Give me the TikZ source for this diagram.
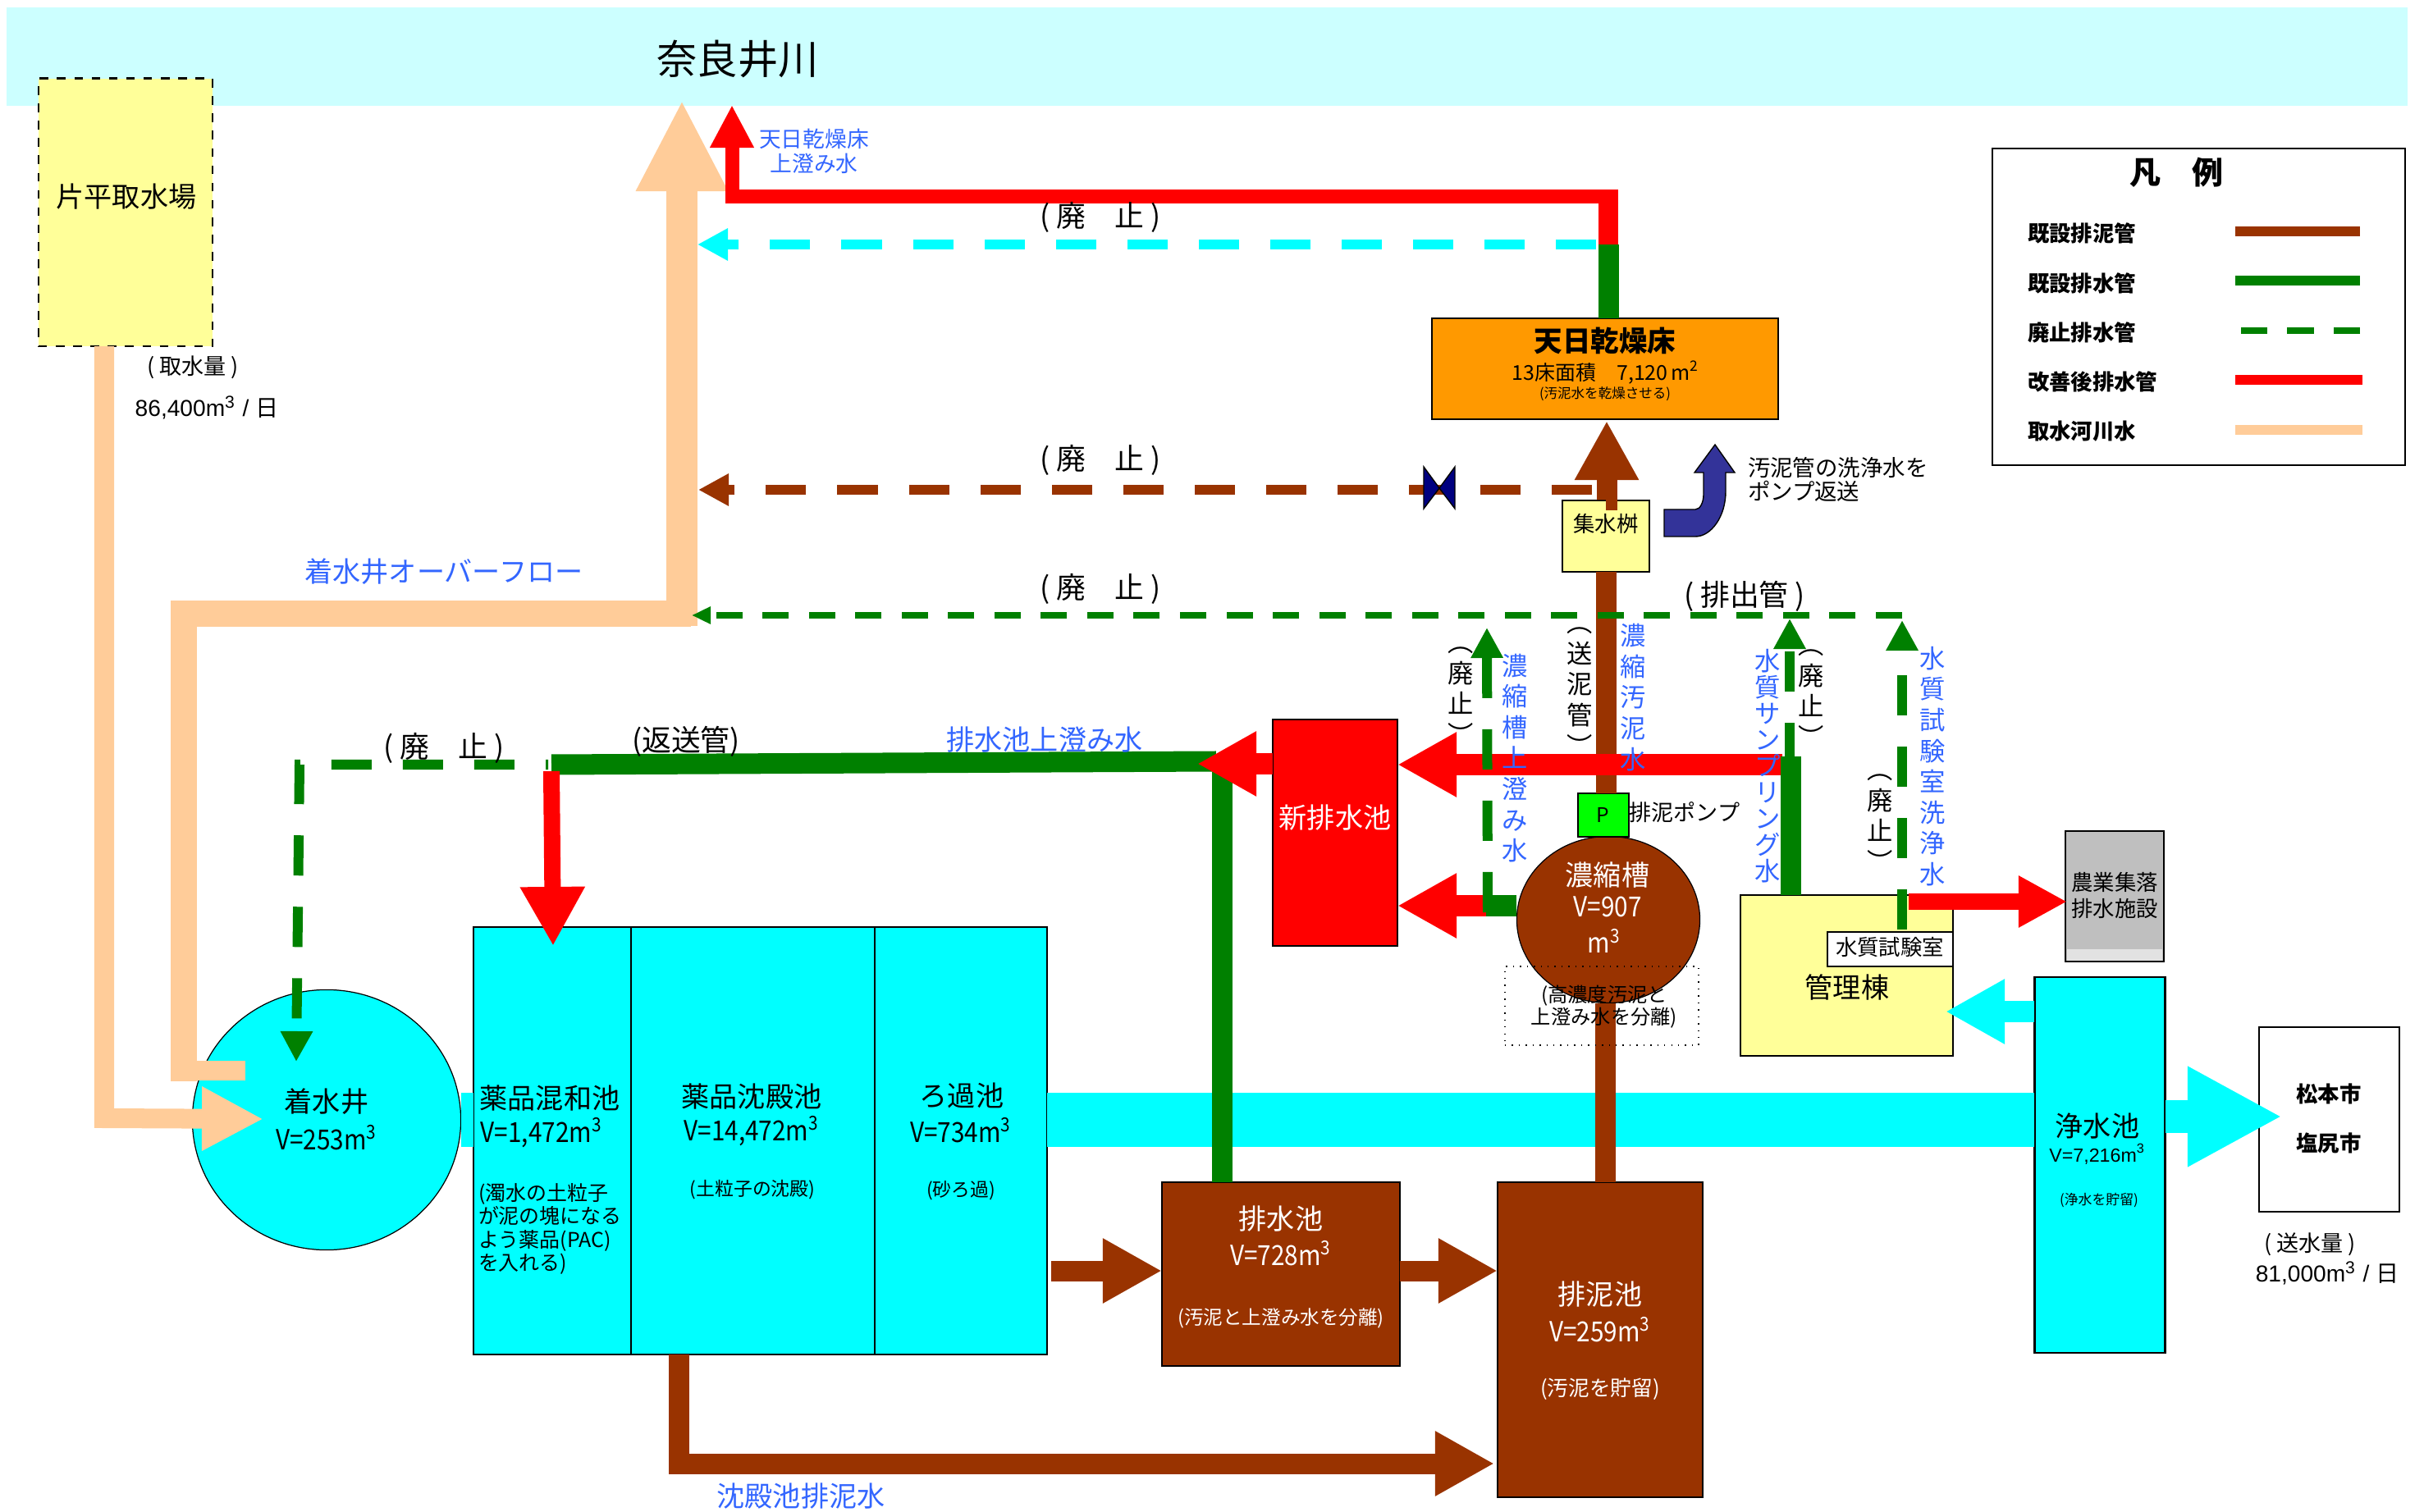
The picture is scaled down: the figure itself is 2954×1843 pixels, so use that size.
\documentclass[tikz,border=0pt]{standalone}
\usepackage{fontspec}
\setmainfont{Noto Sans CJK JP}
\newfontfamily\narrowfont[FakeStretch=0.88]{Noto Sans CJK JP}
\newfontfamily\latinfont{Liberation Sans}
\usepackage{tikz}
\usetikzlibrary{positioning,arrows.meta,shapes.geometric}
\definecolor{riverblue}{HTML}{CCFFFF}
\definecolor{pondcyan}{HTML}{00FFFF}
\definecolor{boxyellow}{HTML}{FFFF99}
\definecolor{bedorange}{HTML}{FF9900}
\definecolor{pipebrown}{HTML}{993300}
\definecolor{pipegreen}{HTML}{008000}
\definecolor{pipepeach}{HTML}{FFCC99}
\definecolor{notesblue}{HTML}{3366FF}
\definecolor{bentblue}{HTML}{333399}
\definecolor{farmgray}{HTML}{BFBFBF}
\definecolor{farmlight}{HTML}{E2E2E2}
\newcommand{\cubic}{m\textsuperscript{3}}

\begin{document}
\begin{tikzpicture}[
  x=0.01cm,y=-0.01cm,
  every node/.style={inner sep=0pt,outer sep=0pt,align=center},
  tank/.style={draw=black,line width=0.7pt},
  round tank/.style={draw=black,line width=0.35pt,ellipse},
  namefont/.style={font=\fontsize{9.7}{11}\selectfont},
  volfont/.style={font=\narrowfont\fontsize{9.6}{11}\selectfont},
  memofont/.style={font=\fontsize{6.5}{8}\selectfont},
  smallfont/.style={font=\fontsize{7.5}{8.4}\selectfont},
  notefont/.style={font=\fontsize{9.7}{11}\selectfont,text=notesblue},
  abolished/.style={font=\fontsize{10.2}{12}\selectfont},
  tate/.style={font=\fontsize{8.9}{10.7}\selectfont},
  bluetate/.style={tate,text=notesblue},
  legendlabel/.style={anchor=west,font=\bfseries\fontsize{7.5}{9}\selectfont},
  brownpipe/.style={draw=pipebrown,line width=2.5mm},
  greenpipe/.style={draw=pipegreen,line width=2.5mm},
  redpipe/.style={draw=red,line width=2.5mm},
  cyanpipe/.style={draw=pondcyan,line width=2.5mm},
  peachpipe/.style={draw=pipepeach,line width=2.4mm},
  olddash/.style={line width=1.2mm,dash pattern=on 4.9mm off 3.8mm},
  finedash/.style={draw=pipegreen,line width=0.8mm,dash pattern=on 3.2mm off 2.45mm},
  bighead/.style={-{Triangle[length=7.2mm,width=7.4mm]}},
  dashhead/.style={-{Triangle[length=3.7mm,width=3.7mm]}}
]
\useasboundingbox (0,0) rectangle (2954,1843);

% 川と取水場
\node[fill=riverblue,minimum width=29.25cm,minimum height=1.2cm] (river) at (1471,69) {};
\node[font=\fontsize{14}{16}\selectfont] (rivername) at (899,72) {奈良井川};
\node[fill=boxyellow,draw=black,line width=0.8pt,dashed,minimum width=2.12cm,minimum height=3.26cm] (intake) at (153,259) {};
\node[namefont] (intakename) at (154,240) {片平取水場};
\node[font=\fontsize{7.7}{9}\selectfont] (intakehead) at (235,448) {( 取水量 )};
\node[font=\fontsize{8}{9}\selectfont] (intakeflow) at (252,497) {{\latinfont 86,400m\textsuperscript{3} / }日};

% 池
\node[round tank,fill=pondcyan,minimum width=3.27cm,minimum height=3.17cm] (well) at (398,1365) {};
\node[tank,fill=pondcyan,minimum width=1.92cm,minimum height=5.21cm] (mix) at (673,1390.5) {};
\node[tank,fill=pondcyan,minimum width=2.97cm,minimum height=5.21cm] (settle) at (917.5,1390.5) {};
\node[tank,fill=pondcyan,minimum width=2.10cm,minimum height=5.21cm] (sandfilter) at (1171,1390.5) {};
\node[tank,fill=pipebrown,minimum width=2.90cm,minimum height=2.24cm] (drainpond) at (1561,1553) {};
\node[tank,fill=pipebrown,minimum width=2.50cm,minimum height=3.84cm] (sludge) at (1950,1633) {};
\node[tank,fill=red,minimum width=1.52cm,minimum height=2.76cm] (newpond) at (1627,1015) {};
\node[round tank,fill=pipebrown,minimum width=2.23cm,minimum height=2.03cm] (thickener) at (1960,1121) {};
\node[tank,fill=green,minimum width=0.62cm,minimum height=0.53cm] (pump) at (1954,993.5) {};
\node[tank,fill=boxyellow,minimum width=1.06cm,minimum height=0.87cm] (catch) at (1957,653.5) {};
\node[tank,fill=bedorange,minimum width=4.22cm,minimum height=1.23cm] (bed) at (1956,449.5) {};
\node[tank,fill=boxyellow,minimum width=2.59cm,minimum height=1.96cm] (office) at (2250.5,1189) {};
\node[tank,fill=farmgray,minimum width=1.20cm,minimum height=1.59cm] (farm) at (2577,1092.5) {};
\node[fill=farmlight,minimum width=1.16cm,minimum height=0.13cm] (farmstrip) at (2577,1164) {};
\node[tank,fill=pondcyan,minimum width=1.59cm,minimum height=4.58cm] (clear) at (2559,1420) {};
\node[tank,fill=white,minimum width=1.71cm,minimum height=2.25cm] (city) at (2838.5,1364.5) {};

% 曲がり角
\coordinate (intakebend) at (127,1363);
\coordinate (welltip) at (321,1364);
\coordinate (overwell) at (299,1305);
\coordinate (overbend) at (224,1305);
\coordinate (overturn) at (224,748);
\coordinate (overjoin) at (842,748);
\coordinate (overup) at (831,763);
\coordinate (rivertip) at (831,122);
\coordinate (bedjoin) at (1960,298);
\coordinate (bedtop) at (1960,231);
\coordinate (bedleft) at (1972,240);
\coordinate (redbend) at (892,240);
\coordinate (redtip) at (892,128);
\coordinate (cyanstart) at (1945,298);
\coordinate (cyantip) at (850,298);
\coordinate (brownstart) at (1940,597);
\coordinate (browntip) at (851,597);
\coordinate (sludgeup) at (1956,1441);
\coordinate (catchup) at (1958,586);
\coordinate (bedtip) at (1958,513);
\coordinate (returnright) at (1482,928);
\coordinate (returnleft) at (672,932);
\coordinate (returnstem) at (1489,941);
\coordinate (dropstart) at (672,940);
\coordinate (droptip) at (674,1153);
\coordinate (oldreturn) at (668,932);
\coordinate (oldcorner) at (365,932);
\coordinate (oldtip) at (361,1294);
\coordinate (newtip) at (1459,931);
\coordinate (redright) at (2172,932);
\coordinate (thickenerred) at (1811,1104);
\coordinate (overflowtip) at (1812,765);
\coordinate (overflowlow) at (1813,1112);
\coordinate (sampletop) at (2182,922);
\coordinate (samplelow) at (2181,930);
\coordinate (sampletip) at (2181,754);
\coordinate (labtop) at (2318,1133);
\coordinate (labcorner) at (2318,750);
\coordinate (labtip) at (2318,756);
\coordinate (linetip) at (843,750);
\coordinate (farmred) at (2326,1099);
\coordinate (farmtip) at (2519,1099);
\coordinate (officetip) at (2371,1233);
\coordinate (citytip) at (2781,1361);
\coordinate (mixlow) at (827,1651);
\coordinate (mixbend) at (827,1784);
\coordinate (sludgetip) at (1821,1784);
\coordinate (filterout) at (1281,1549);

% 取水河川水
\draw[peachpipe,-{Triangle[length=7.5mm,width=7.3mm]}] (intake.south -| intakebend) -- (intakebend) -- (welltip);
\draw[peachpipe] (overwell) -- (overbend);
\draw[peachpipe,line width=3.2mm] (224,1318) -- (overturn) -- (overjoin);
\draw[peachpipe,line width=3.8mm,-{Triangle[length=11.1mm,width=10.4mm]}] (overup) -- (rivertip);

% 浄水の流れ
\draw[draw=pondcyan,line width=6.5mm] (well.east) -- (well.east -| mix.west);
\draw[draw=pondcyan,line width=6.5mm] (sandfilter.east |- well.east) -- (clear.west |- well.east);
\draw[cyanpipe,bighead] (clear.west |- officetip) -- (officetip);
\draw[draw=pondcyan,line width=3.9mm,-{Triangle[length=11.5mm,width=11.4mm]}] (clear.east |- citytip) -- (citytip);

% 既設排泥管
\draw[brownpipe] (sludgeup) -- (thickener.south -| sludgeup);
\draw[brownpipe] (pump.north -| catch.south) -- (catch.south);
\draw[brownpipe,-{Triangle[length=7.2mm,width=7.3mm]}] (catch.north) -- (catch.north -| bedtip) -- (bedtip);
\draw[brownpipe,bighead] (filterout) -- (drainpond.west |- filterout);
\draw[brownpipe,bighead] (drainpond.east |- filterout) -- (sludge.west |- filterout);
\draw[brownpipe,bighead] (mixlow) -- (mixbend) -- (sludgetip);
\draw[draw=pipebrown,olddash,dashhead] (brownstart) -- (browntip);
\draw[draw=black,line width=0.4pt,fill=blue!50!black] (1735,569) -- (1754,595) -- (1773,569) -- (1773,620) -- (1754,595) -- (1735,620) -- cycle;

% 上澄み水の返送
\draw[greenpipe] (drainpond.north -| returnstem) -- (returnstem);
\draw[greenpipe] (returnright) -- (returnleft);
\draw[draw=pipegreen,olddash,dash phase=4.6mm,dashhead] (oldreturn) -- (oldcorner) -- (oldtip);
\draw[redpipe,line width=2mm,bighead] (dropstart) -- (droptip);
\draw[redpipe,bighead] (newpond.west |- newtip) -- (newtip);

% 天日乾燥床から川へ
\draw[greenpipe] (bed.north -| bedjoin) -- (bedjoin);
\draw[redpipe,line width=2.4mm] (bedjoin) -- (bedtop);
\draw[redpipe,line width=1.7mm,-{Triangle[length=5.2mm,width=5mm]}] (bedleft) -- (redbend) -- (redtip);
\draw[draw=pondcyan,olddash,dashhead] (cyanstart) -- (cyantip);

% 新排水池へ
\draw[redpipe,bighead] (redright) -- (newpond.east |- redright);
\draw[redpipe,bighead] (thickenerred) -- (newpond.east |- thickenerred);
\draw[draw=pipegreen,line width=2.5mm] (thickener.west |- thickenerred) -- (thickenerred);
\draw[draw=pipegreen,olddash,dashhead] (overflowlow) -- (overflowtip);

% 管理棟からの排水
\draw[greenpipe] (office.north -| sampletop) -- (sampletop);
\draw[draw=pipegreen,olddash,dashhead] (samplelow) -- (sampletip);
\draw[redpipe,line width=1.9mm,-{Triangle[length=5.9mm,width=5.9mm]}] (farmred) -- (farmtip);
\draw[draw=pipegreen,olddash,dashhead] (labtop) -- (labtip);
\draw[finedash,-{Triangle[length=2.3mm,width=2mm]}] (labcorner) -- (linetip);

% 返送ポンプの矢印
\draw[draw=black,line width=0.4pt,fill=bentblue] (2028,621) -- (2066,621)
  .. controls (2072,621) and (2076,612) .. (2076,603) -- (2076,576) -- (2065,576) -- (2090,542)
  -- (2114,576) -- (2103,576) -- (2103,599)
  .. controls (2103,630) and (2085,654) .. (2066,654) -- (2028,654) -- cycle;
\node[anchor=west,align=left,font=\fontsize{7.8}{8.3}\selectfont] (pumpnote) at (2130,584) {汚泥管の洗浄水を\\ポンプ返送};

% 文字が上に重なる小箱
\node[draw=black,line width=0.4pt,dotted,minimum width=2.36cm,minimum height=0.96cm] (dotbox) at (1952,1226) {};
\node[tank,fill=white,minimum width=1.53cm,minimum height=0.42cm] (lab) at (2303.5,1157) {};

% 池の名前
\node[namefont] (wellname) at (398,1343) {着水井};
\node[volfont] (wellvol) at (398,1387) {V=253\cubic};
\node[namefont] (mixname) at (670,1339) {薬品混和池};
\node[volfont] (mixvol) at (660,1381) {V=1,472\cubic};
\node[anchor=west,align=left,font=\fontsize{7.1}{8}\selectfont] (mixmemo) at (583,1498) {(濁水の土粒子\\が泥の塊になる\\よう薬品(PAC)\\を入れる)};
\node[namefont] (settlename) at (916,1337) {薬品沈殿池};
\node[volfont] (settlevol) at (916,1379) {V=14,472\cubic};
\node[memofont] (settlememo) at (917,1450) {(土粒子の沈殿)};
\node[namefont] (filtername) at (1172,1335) {ろ過池};
\node[volfont] (filtervol) at (1171,1378) {V=734\cubic};
\node[memofont] (filtermemo) at (1171,1451) {(砂ろ過)};
\node[namefont,text=white] (drainname) at (1561,1486) {排水池};
\node[volfont,text=white] (drainvol) at (1561,1528) {V=728\cubic};
\node[font=\fontsize{6.7}{8}\selectfont,text=white] (drainmemo) at (1561,1607) {(汚泥と上澄み水を分離)};
\node[namefont,text=white] (sludgename) at (1950,1578) {排泥池};
\node[volfont,text=white] (sludgevol) at (1950,1621) {V=259\cubic};
\node[font=\fontsize{7.3}{8}\selectfont,text=white] (sludgememo) at (1950,1693) {(汚泥を貯留)};
\node[namefont,text=white] (newname) at (1627,997) {新排水池};
\node[namefont,text=white] (thickname) at (1959,1067) {濃縮槽};
\node[volfont,text=white] (thickvol) at (1959,1105) {V=907};
\node[volfont,text=white] (thickm) at (1955,1147) {\cubic};
\node[font=\fontsize{6.9}{7.6}\selectfont] (thickmemo) at (1955,1227) {(高濃度汚泥と\\上澄み水を分離)};
\node[font=\fontsize{7}{8}\selectfont] (pumpP) at (1953,993) {P};
\node[font=\fontsize{7.7}{9}\selectfont] (pumpname) at (2053,990) {排泥ポンプ};
\node[font=\fontsize{7.5}{9}\selectfont] (catchname) at (1957,639) {集水桝};
\node[font=\bfseries\fontsize{9.8}{11}\selectfont] (bedname) at (1956,415) {天日乾燥床};
\node[font=\fontsize{7.1}{9}\selectfont] (bedarea) at (1957,454) {13床面積　7,120\,m\textsuperscript{2}};
\node[font=\fontsize{4.7}{5}\selectfont] (bedmemo) at (1956,480) {(汚泥水を乾燥させる)};
\node[namefont] (officename) at (2251,1203) {管理棟};
\node[font=\fontsize{7.5}{9}\selectfont] (labname) at (2303,1155) {水質試験室};
\node[font=\fontsize{7.5}{9.1}\selectfont] (farmname) at (2577,1091) {農業集落\\排水施設};
\node[namefont] (clearname) at (2556,1373) {浄水池};
\node[font=\latinfont\fontsize{6.6}{8}\selectfont] (clearvol) at (2556,1407) {V=7,216m\textsuperscript{3}};
\node[font=\fontsize{4.8}{5}\selectfont] (clearmemo) at (2558,1463) {(浄水を貯留)};
\node[font=\bfseries\fontsize{7.5}{9}\selectfont] (cityone) at (2838,1333) {松本市};
\node[font=\bfseries\fontsize{7.5}{9}\selectfont] (citytwo) at (2838,1393) {塩尻市};
\node[font=\fontsize{7.7}{9}\selectfont] (sendhead) at (2815,1517) {( 送水量 )};
\node[font=\fontsize{8}{9}\selectfont] (sendflow) at (2836,1552) {{\latinfont 81,000m\textsuperscript{3} / }日};

% 管の注記
\node[font=\fontsize{7.6}{8.5}\selectfont,text=notesblue] (bednote) at (992,184) {天日乾燥床\\上澄み水};
\node[abolished] (oldone) at (1341,265) {( 廃　止 )};
\node[abolished] (oldtwo) at (1341,561) {( 廃　止 )};
\node[abolished] (oldthree) at (1341,718) {( 廃　止 )};
\node[abolished] (oldfour) at (541,912) {( 廃　止 )};
\node[abolished] (returnname) at (836,904) {(返送管)};
\node[abolished] (dischargename) at (2126,727) {( 排出管 )};
\node[notefont] (overname) at (541,697) {着水井オーバーフロー};
\node[notefont] (returnnote) at (1273,902) {排水池上澄み水};
\node[notefont] (sedimentnote) at (976,1824) {沈殿池排泥水};
\node[bluetate] (overflownote) at (1846,924) {濃\\縮\\槽\\上\\澄\\み\\水};
\node[bluetate] (sludgenote) at (1990,850) {濃\\縮\\汚\\泥\\水};
\node[tate] (sendpipe) at (1925,843) {︵\\送\\泥\\管\\︶};
\node[tate] (oldleft) at (1780,848) {︵\\廃\\止\\︶};
\node[tate] (oldmiddle) at (2207,851) {︵\\廃\\止\\︶};
\node[tate] (oldright) at (2291,1003) {︵\\廃\\止\\︶};
\node[font=\fontsize{8.9}{9.1}\selectfont,text=notesblue] (samplenote) at (2154,934) {水\\質\\サ\\ン\\プ\\リ\\ン\\グ\\水};
\node[bluetate] (labnote) at (2355,934) {水\\質\\試\\験\\室\\洗\\浄\\水};

% 凡例
\node[tank,minimum width=5.03cm,minimum height=3.86cm] (legend) at (2679.5,374) {};
\node[font=\bfseries\fontsize{10.8}{12}\selectfont] (legendtitle) at (2652,210) {凡　例};
\node[legendlabel] (legendone) at (2471,284) {既設排泥管};
\node[legendlabel] (legendtwo) at (2471,345) {既設排水管};
\node[legendlabel] (legendthree) at (2471,405) {廃止排水管};
\node[legendlabel] (legendfour) at (2471,465) {改善後排水管};
\node[legendlabel] (legendfive) at (2471,526) {取水河川水};
\draw[draw=pipebrown,line width=1.2mm] (2724,282) -- (2876,282);
\draw[draw=pipegreen,line width=1.2mm] (2724,342) -- (2876,342);
\draw[finedash] (2876,403) -- (2730,403);
\draw[draw=red,line width=1.2mm] (2724,463) -- (2879,463);
\draw[draw=pipepeach,line width=1.2mm] (2724,524) -- (2879,524);
\end{tikzpicture}
\end{document}
